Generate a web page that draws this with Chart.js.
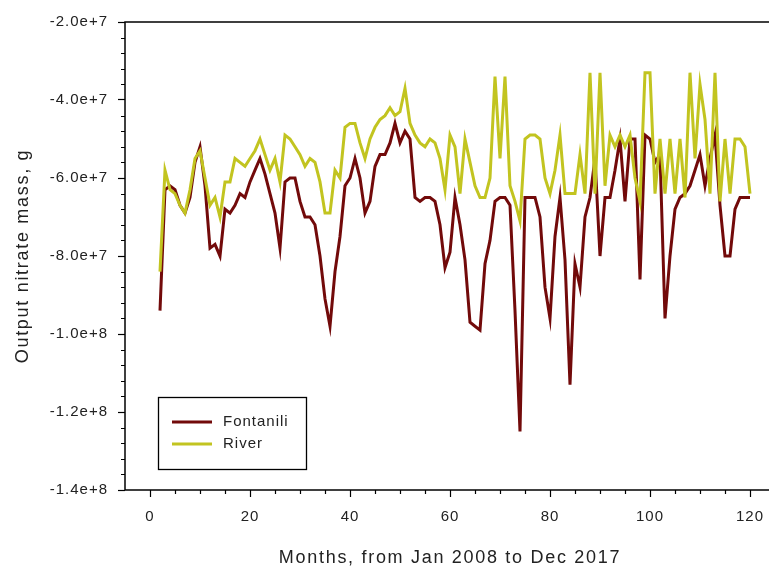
<!DOCTYPE html>
<html>
<head>
<meta charset="utf-8">
<script src="https://cdn.jsdelivr.net/npm/chart.js"></script>
<style>
  html, body { margin: 0; padding: 0; background: #fff; overflow: hidden; }
  #wrap { width: 790px; height: 567px; }
</style>
</head>
<body>
<div id="wrap"><canvas id="chart" width="790" height="567"></canvas></div>
<script>
// months since Jan 2008
const months = [
  2, 3, 4, 5, 6, 7, 8, 9, 10, 11,
  12, 13, 14, 15, 16, 17, 18, 19, 20, 21,
  22, 23, 24, 25, 26, 27, 28, 29, 30, 31,
  32, 33, 34, 35, 36, 37, 38, 39, 40, 41,
  42, 43, 44, 45, 46, 47, 48, 49, 50, 51,
  52, 53, 54, 55, 56, 57, 58, 59, 60, 61,
  62, 63, 64, 65, 66, 67, 68, 69, 70, 71,
  72, 73, 74, 75, 76, 77, 78, 79, 80, 81,
  82, 83, 84, 85, 86, 87, 88, 89, 90, 91,
  92, 93, 94, 95, 96, 97, 98, 99, 100, 101,
  102, 103, 104, 105, 106, 107, 108, 109, 110, 111,
  112, 113, 114, 115, 116, 117, 118, 119, 120
]

// output nitrate mass, g
const fontanili = [
  -94e6, -63e6, -62e6, -63e6, -67e6, -69e6, -65e6, -56e6, -52e6, -62e6,
  -78e6, -77e6, -80e6, -68e6, -69e6, -67e6, -64e6, -65e6, -61e6, -58e6,
  -55e6, -59e6, -64e6, -69e6, -78e6, -61e6, -60e6, -60e6, -66e6, -70e6,
  -70e6, -72e6, -80e6, -91e6, -98e6, -84e6, -75e6, -62e6, -60e6, -55e6,
  -60e6, -69e6, -66e6, -57e6, -54e6, -54e6, -51e6, -46e6, -51e6, -48e6,
  -50e6, -65e6, -66e6, -65e6, -65e6, -66e6, -72e6, -83e6, -79e6, -65e6,
  -72e6, -81e6, -97e6, -98e6, -99e6, -82e6, -76e6, -66e6, -65e6, -65e6,
  -67e6, -94e6, -125e6, -65e6, -65e6, -65e6, -70e6, -88e6, -96e6, -75e6,
  -65e6, -81e6, -113e6, -82e6, -88e6, -70e6, -65e6, -55e6, -80e6, -65e6,
  -65e6, -58e6, -50e6, -66e6, -50e6, -50e6, -86e6, -49e6, -50e6, -56e6,
  -54e6, -96e6, -80e6, -68e6, -65e6, -64e6, -62e6, -58e6, -54e6, -62e6,
  -55e6, -49e6, -67e6, -80e6, -80e6, -68e6, -65e6, -65e6, -65e6
]

const river = [
  -84e6, -58e6, -63e6, -64e6, -67e6, -69e6, -63e6, -55e6, -53e6, -60e6,
  -67e6, -65e6, -70e6, -61e6, -61e6, -55e6, -56e6, -57e6, -55e6, -53e6,
  -50e6, -54e6, -58e6, -55e6, -61e6, -49e6, -50e6, -52e6, -54e6, -57e6,
  -55e6, -56e6, -61e6, -69e6, -69e6, -58e6, -60e6, -47e6, -46e6, -46e6,
  -51e6, -55e6, -50e6, -47e6, -45e6, -44e6, -42e6, -44e6, -43e6, -37e6,
  -46e6, -49e6, -51e6, -52e6, -50e6, -51e6, -55e6, -63e6, -49e6, -52e6,
  -64e6, -50e6, -56e6, -62e6, -65e6, -65e6, -60e6, -34e6, -55e6, -34e6,
  -62e6, -66e6, -71e6, -50e6, -49e6, -49e6, -50e6, -60e6, -64e6, -58e6,
  -49e6, -64e6, -64e6, -64e6, -54e6, -64e6, -33e6, -64e6, -33e6, -62e6,
  -49e6, -52e6, -49e6, -52e6, -49e6, -60e6, -66e6, -33e6, -33e6, -64e6,
  -50e6, -64e6, -50e6, -64e6, -50e6, -65e6, -33e6, -55e6, -36e6, -45e6,
  -64e6, -33e6, -66e6, -50e6, -64e6, -50e6, -50e6, -52e6, -64e6
]

const xTicks = [0, 20, 40, 60, 80, 100, 120]
const yTicks = [-2e7, -4e7, -6e7, -8e7, -1e8, -1.2e8, -1.4e8]

const xTitle = "Months, from Jan 2008 to Dec 2017"
const yTitle = "Output nitrate mass, g"

const textColor = "#222"
const fontFamily = "'Liberation Sans', Arial, sans-serif"

function toPoints(values) {
  return months.map((m, i) => ({ x: m, y: values[i] }))
}

// frame, minor ticks, axis titles and the boxed legend
const framePlugin = {
  id: "frame",
  beforeDraw(chart) {
    // the reference text is drawn a little spaced out
    chart.ctx.letterSpacing = "1px"
  },
  afterDraw(chart) {
    const ctx = chart.ctx
    const a = chart.chartArea
    const xs = chart.scales.x
    const ys = chart.scales.y
    ctx.save()
    ctx.strokeStyle = "#000"
    ctx.lineWidth = 1.5
    ctx.strokeRect(a.left, a.top, a.right - a.left, a.bottom - a.top)

    // minor ticks
    ctx.lineWidth = 1.2
    ctx.beginPath()
    for (let v = 5; v <= 125; v += 5) {
      if (v % 20 === 0) continue
      const px = Math.round(xs.getPixelForValue(v)) + 0.5
      ctx.moveTo(px, a.bottom)
      ctx.lineTo(px, a.bottom + 4)
    }
    for (let v = -2e7; v >= -1.4e8; v -= 4e6) {
      if (Math.abs(v % 2e7) < 1) continue
      const py = Math.round(ys.getPixelForValue(v)) + 0.5
      ctx.moveTo(a.left, py)
      ctx.lineTo(a.left - 4, py)
    }
    ctx.stroke()

    // axis titles
    ctx.fillStyle = textColor
    ctx.font = "18px " + fontFamily
    ctx.letterSpacing = "1.7px"
    ctx.textAlign = "center"
    ctx.textBaseline = "alphabetic"
    ctx.fillText(xTitle, (a.left + a.right) / 2, 563)
    ctx.save()
    ctx.translate(28, (a.top + a.bottom) / 2)
    ctx.rotate(-Math.PI / 2)
    ctx.fillText(yTitle, 0, 0)
    ctx.restore()

    // legend box
    const bx = 158, by = 397, bw = 148, bh = 72
    ctx.fillStyle = "#fff"
    ctx.fillRect(bx, by, bw, bh)
    ctx.lineWidth = 1.3
    ctx.strokeStyle = "#000"
    ctx.strokeRect(bx + 0.5, by + 0.5, bw, bh)
    ctx.font = "15px " + fontFamily
    ctx.letterSpacing = "1px"
    ctx.textAlign = "left"
    ctx.textBaseline = "middle"
    chart.data.datasets.forEach((ds, i) => {
      const ly = by + 25 + i * 22
      ctx.strokeStyle = ds.borderColor
      ctx.lineWidth = 3
      ctx.beginPath()
      ctx.moveTo(bx + 14, ly)
      ctx.lineTo(bx + 54, ly)
      ctx.stroke()
      ctx.fillStyle = textColor
      ctx.fillText(ds.label, bx + 65, ly)
    })
    ctx.restore()
  },
}

new Chart(document.getElementById("chart"), {
  type: "line",
  data: {
    datasets: [
      {
        label: "Fontanili",
        data: toPoints(fontanili),
        borderColor: "#720a0a",
        borderWidth: 3,
        pointRadius: 0,
        tension: 0,
        order: 1,
      },
      {
        label: "River",
        data: toPoints(river),
        borderColor: "#c2c420",
        borderWidth: 3,
        pointRadius: 0,
        tension: 0,
        order: 0,
      },
    ],
  },
  options: {
    responsive: false,
    animation: false,
    layout: { padding: { top: 22, right: 15, bottom: 8, left: 0 } },
    plugins: {
      legend: { display: false },
      tooltip: { enabled: false },
    },
    scales: {
      x: {
        type: "linear",
        min: -5,
        max: 125,
        afterFit(scale) { scale.height = 69 },
        afterBuildTicks(scale) { scale.ticks = xTicks.map((v) => ({ value: v })) },
        grid: { drawOnChartArea: false, drawTicks: true, tickLength: 7, color: "#000", tickWidth: 1.2 },
        border: { display: false },
        ticks: { color: textColor, padding: 11, maxRotation: 0, font: { size: 15, family: fontFamily } },
      },
      y: {
        min: -1.4e8,
        max: -2e7,
        afterFit(scale) { scale.width = 125 },
        afterBuildTicks(scale) { scale.ticks = yTicks.map((v) => ({ value: v })) },
        grid: { drawOnChartArea: false, drawTicks: true, tickLength: 7, color: "#000", tickWidth: 1.2 },
        border: { display: false },
        ticks: {
          color: textColor,
          padding: 10,
          font: { size: 15, family: fontFamily },
          callback: (v) => Number(v).toExponential(1),
        },
      },
    },
  },
  plugins: [framePlugin],
})
</script>
</body>
</html>
